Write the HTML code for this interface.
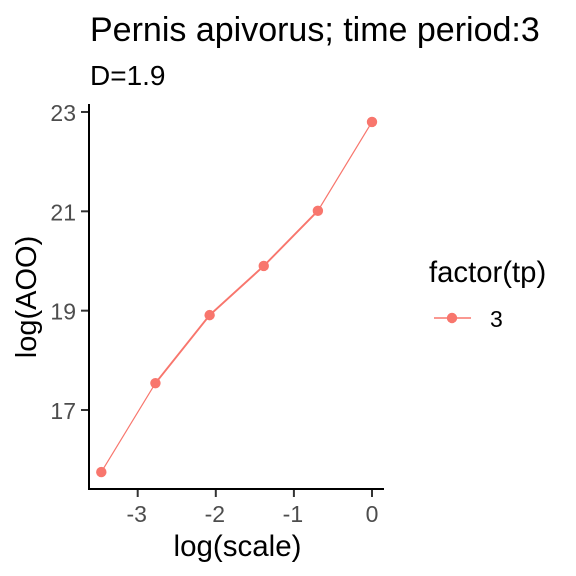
<!DOCTYPE html>
<html>
<head>
<meta charset="utf-8">
<style>
html,body{margin:0;padding:0;background:#fff;}
svg{display:block;}
text{font-family:"Liberation Sans",Arial,sans-serif;}
</style>
</head>
<body>
<svg id="chart" width="576" height="576" viewBox="0 0 576 576" xmlns="http://www.w3.org/2000/svg">
<rect width="576" height="576" fill="#fff"/>
<text x="90" y="41" font-size="34" fill="#000">Pernis apivorus; time period:3</text>
<text x="90" y="85" font-size="28" fill="#000">D=1.9</text>
<text x="237.5" y="556" font-size="29.5" fill="#000" text-anchor="middle">log(scale)</text>
<text transform="translate(36 297) rotate(-90)" font-size="29" fill="#000" text-anchor="middle">log(AOO)</text>
<g id="plot"></g>
<text x="429" y="282" font-size="29.3" fill="#000">factor(tp)</text>
<g>
<line x1="434" y1="318" x2="471" y2="318" stroke="#F8766D" stroke-width="1.4"/>
<circle cx="452" cy="318" r="5.2" fill="#F8766D"/>
<text x="490" y="327" font-size="23" fill="#000">3</text>
</g>
</svg>
<script>
const logScale = [-3.466, -2.773, -2.079, -1.386, -0.693, 0];
const logAoo = [15.75, 17.54, 18.91, 19.9, 21.01, 22.8];
const xTickValues = [-3, -2, -1, 0];
const yTickValues = [17, 19, 21, 23];

const NS = 'http://www.w3.org/2000/svg';
const plot = document.getElementById('plot');
function xScale(v) { return 372 + v * 78.1; }
function yScale(v) { return 410 - (v - 17) * 49.67; }
function make(tag, attrs) {
  const el = document.createElementNS(NS, tag);
  for (const k in attrs) el.setAttribute(k, attrs[k]);
  plot.appendChild(el);
  return el;
}
const tickColor = '#333333';
const labelColor = '#4D4D4D';

xTickValues.forEach(function (v) {
  const tick = make('line', {x1: xScale(v), x2: xScale(v), y1: 489, y2: 497, stroke: tickColor, 'stroke-width': 2});
  
  
  const label = make('text', {x: xScale(v) - (v < 0 ? 1 : 0), y: 522, 'font-size': 23, fill: labelColor, 'text-anchor': 'middle'});
  label.textContent = String(v);
  
  
});
yTickValues.forEach(function (v) {
  const tick = make('line', {x1: 81, x2: 89, y1: yScale(v), y2: yScale(v), stroke: tickColor, 'stroke-width': 2});
  
  
  const label = make('text', {x: 76, y: yScale(v) + 9, 'font-size': 23, fill: labelColor, 'text-anchor': 'end'});
  label.textContent = String(v);
  
  
});

const xAxis = make('line', {x1: 88, x2: 384, y1: 489, y2: 489, stroke: '#000', 'stroke-width': 2});


const yAxis = make('line', {x1: 89, x2: 89, y1: 104, y2: 490, stroke: '#000', 'stroke-width': 2});



const coords = logScale.map(function (v, i) { return xScale(v) + ',' + yScale(logAoo[i]); });
const series = make('polyline', {points: coords.join(' '), fill: 'none', stroke: '#F8766D', 'stroke-width': 1.2});


const overlap = make('polyline', {points: coords.slice(1, 5).join(' '), fill: 'none', stroke: '#F8766D', 'stroke-width': 1.9});



logScale.forEach(function (v, i) {
  const p = make('circle', {cx: xScale(v), cy: yScale(logAoo[i]), r: 5.2, fill: '#F8766D'});
  
  
});
</script>
</body>
</html>
